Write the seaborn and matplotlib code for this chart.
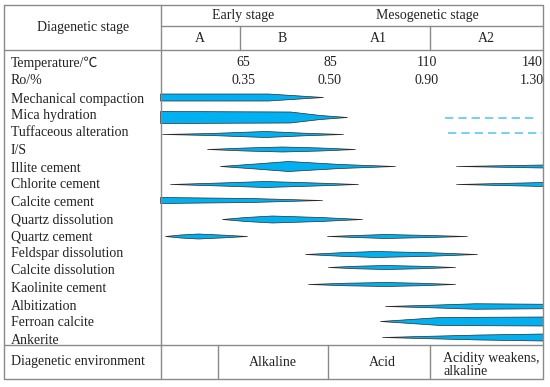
import numpy as np
import pandas as pd
import matplotlib
matplotlib.use('Agg')
import matplotlib.pyplot as plt
import seaborn as sns

sns.set_theme(style='white')
FONT = ['Liberation Serif', 'Noto Sans CJK SC', 'DejaVu Sans']
plt.rcParams['font.family'] = FONT

# ---- data (x in diagram units, left = earlier / shallower) ----
processes = ['Mechanical compaction', 'Mica hydration', 'Tuffaceous alteration', 'I/S',
             'Illite cement', 'Chlorite cement', 'Calcite cement', 'Quartz dissolution',
             'Quartz cement', 'Feldspar dissolution', 'Calcite dissolution',
             'Kaolinite cement', 'Albitization', 'Ferroan calcite', 'Ankerite']

stages = ['Early stage', 'Mesogenetic stage']
sub_stages = ['A', 'B', 'A1', 'A2']
temperatures = ['65', '85', '110', '140']
ro_values = ['0.35', '0.50', '0.90', '1.30']
environments = ['Alkaline', 'Acid', 'Acidity weakens,\nalkaline']

# each band: process index, x control points, thickness at those points
band_proc = [0, 1, 2, 3, 4, 4, 5, 5, 6, 7, 8, 8, 9, 10, 11, 12, 13, 14]
band_x = [
    [160, 268, 323],
    [160, 290, 320, 347],
    [162, 210, 265, 305, 343],
    [207, 245, 282, 320, 355],
    [220, 255, 288, 340, 395],
    [456, 500, 543],
    [170, 220, 265, 315, 358],
    [456, 500, 543],
    [160, 250, 322],
    [222, 245, 272, 320, 362],
    [165, 180, 198, 225, 247],
    [327, 355, 385, 430, 467],
    [305, 340, 375, 430, 477],
    [328, 355, 385, 420, 455],
    [308, 345, 385, 420, 455],
    [385, 430, 475, 510, 543],
    [380, 410, 440, 543],
    [382, 420, 480, 543],
]
band_w = [
    [7, 7, 0],
    [12, 11, 4, 0],
    [0, 2, 6, 2.5, 0],
    [0, 3, 5, 3, 0],
    [0, 5, 10, 4, 0],
    [0, 1.5, 3],
    [0, 3, 6, 3, 0],
    [0, 2, 4],
    [6, 4, 0],
    [0, 4, 7, 4, 0],
    [0, 3, 5, 2.5, 0],
    [0, 2, 4, 2, 0],
    [0, 3.5, 6, 3.5, 0],
    [0, 2.5, 4, 2.5, 0],
    [0, 2.5, 4, 2.5, 0],
    [0, 2.5, 5.5, 5, 4.5],
    [0, 4, 8, 9],
    [0, 2, 5, 7],
]

# weak / possible occurrence (dashed)
dash_proc = [1, 2]
dash_start = [445, 448]
dash_end = [538, 542]

# ---- layout ----
label_y = [100, 115, 133, 150, 168, 184, 203, 220, 237, 254, 271, 288, 306, 323, 341]
band_y = [97, 117, 134, 149, 166, 184, 200, 219, 236, 254, 267, 284, 306, 321, 337]
dash_y = [118, 133]
stage_x = [243, 427]
sub_x = [200, 282, 378, 486]
temp_x = [243, 330, 427, 532]
env_x = [273, 382, 443]

band_color = '#00b0f0'
edge_color = '#2a2a2a'
line_color = '#8a8a8a'
text_color = '#222222'
fs = 10


def label(x, y, s, ha='center', **kw):
    ax.text(x, y, s, ha=ha, va='center', fontsize=fs, color=text_color,
            family=FONT, **kw)


fig = plt.figure(figsize=(5.5, 3.87), dpi=100)
ax = fig.add_axes([0, 0, 1, 1])

# table frame
lw = 1.0
ax.plot([4, 543, 543, 4, 4], [5, 5, 379, 379, 5], color=line_color, lw=lw)
ax.plot([161, 161], [5, 379], color=line_color, lw=lw)
ax.plot([161, 543], [26, 26], color=line_color, lw=lw)
ax.plot([4, 543], [50, 50], color=line_color, lw=lw)
for xv in [240, 430]:
    ax.plot([xv, xv], [26, 50], color=line_color, lw=lw)
ax.plot([4, 543], [345, 345], color=line_color, lw=lw)
for xv in [218, 328, 430]:
    ax.plot([xv, xv], [345, 379], color=line_color, lw=lw)

# bands
for p, xs, ws in zip(band_proc, band_x, band_w):
    xs = np.array(xs, dtype=float)
    ws = np.array(ws, dtype=float)
    yc = band_y[p]
    ax.fill_between(xs, yc - ws / 2, yc + ws / 2, facecolor=band_color,
                    edgecolor=edge_color, lw=0.5)

# dashed segments
dash_df = pd.DataFrame({
    'x': [v for pair in zip(dash_start, dash_end) for v in pair],
    'y': [dash_y[i] for i in range(len(dash_proc)) for _ in range(2)],
    'proc': [processes[p] for p in dash_proc for _ in range(2)],
})
sns.lineplot(data=dash_df, x='x', y='y', units='proc', estimator=None, ax=ax,
             color='#5cc8f0', lw=1.2, linestyle=(0, (5, 3)), legend=False)

ax.set_xlim(0, 550)
ax.set_ylim(387, 0)
ax.axis('off')

# header text
label(83, 27, 'Diagenetic stage')
for name, xv in zip(stages, stage_x):
    label(xv, 15, name)
for name, xv in zip(sub_stages, sub_x):
    label(xv, 38, name)
label(11, 63, 'Temperature/℃', ha='left')
label(11, 80, 'Ro/%', ha='left')
for t, r, xv in zip(temperatures, ro_values, temp_x):
    label(xv, 62, t)
    label(xv, 80, r)

# process labels
for name, yv in zip(processes, label_y):
    label(11, yv, name, ha='left')

# environment row
label(11, 362, 'Diagenetic environment', ha='left')
label(env_x[0], 362, environments[0])
label(env_x[1], 363, environments[1])
label(env_x[2], 365, environments[2], ha='left', linespacing=1.0)

fig.savefig('out.png', dpi=100)
